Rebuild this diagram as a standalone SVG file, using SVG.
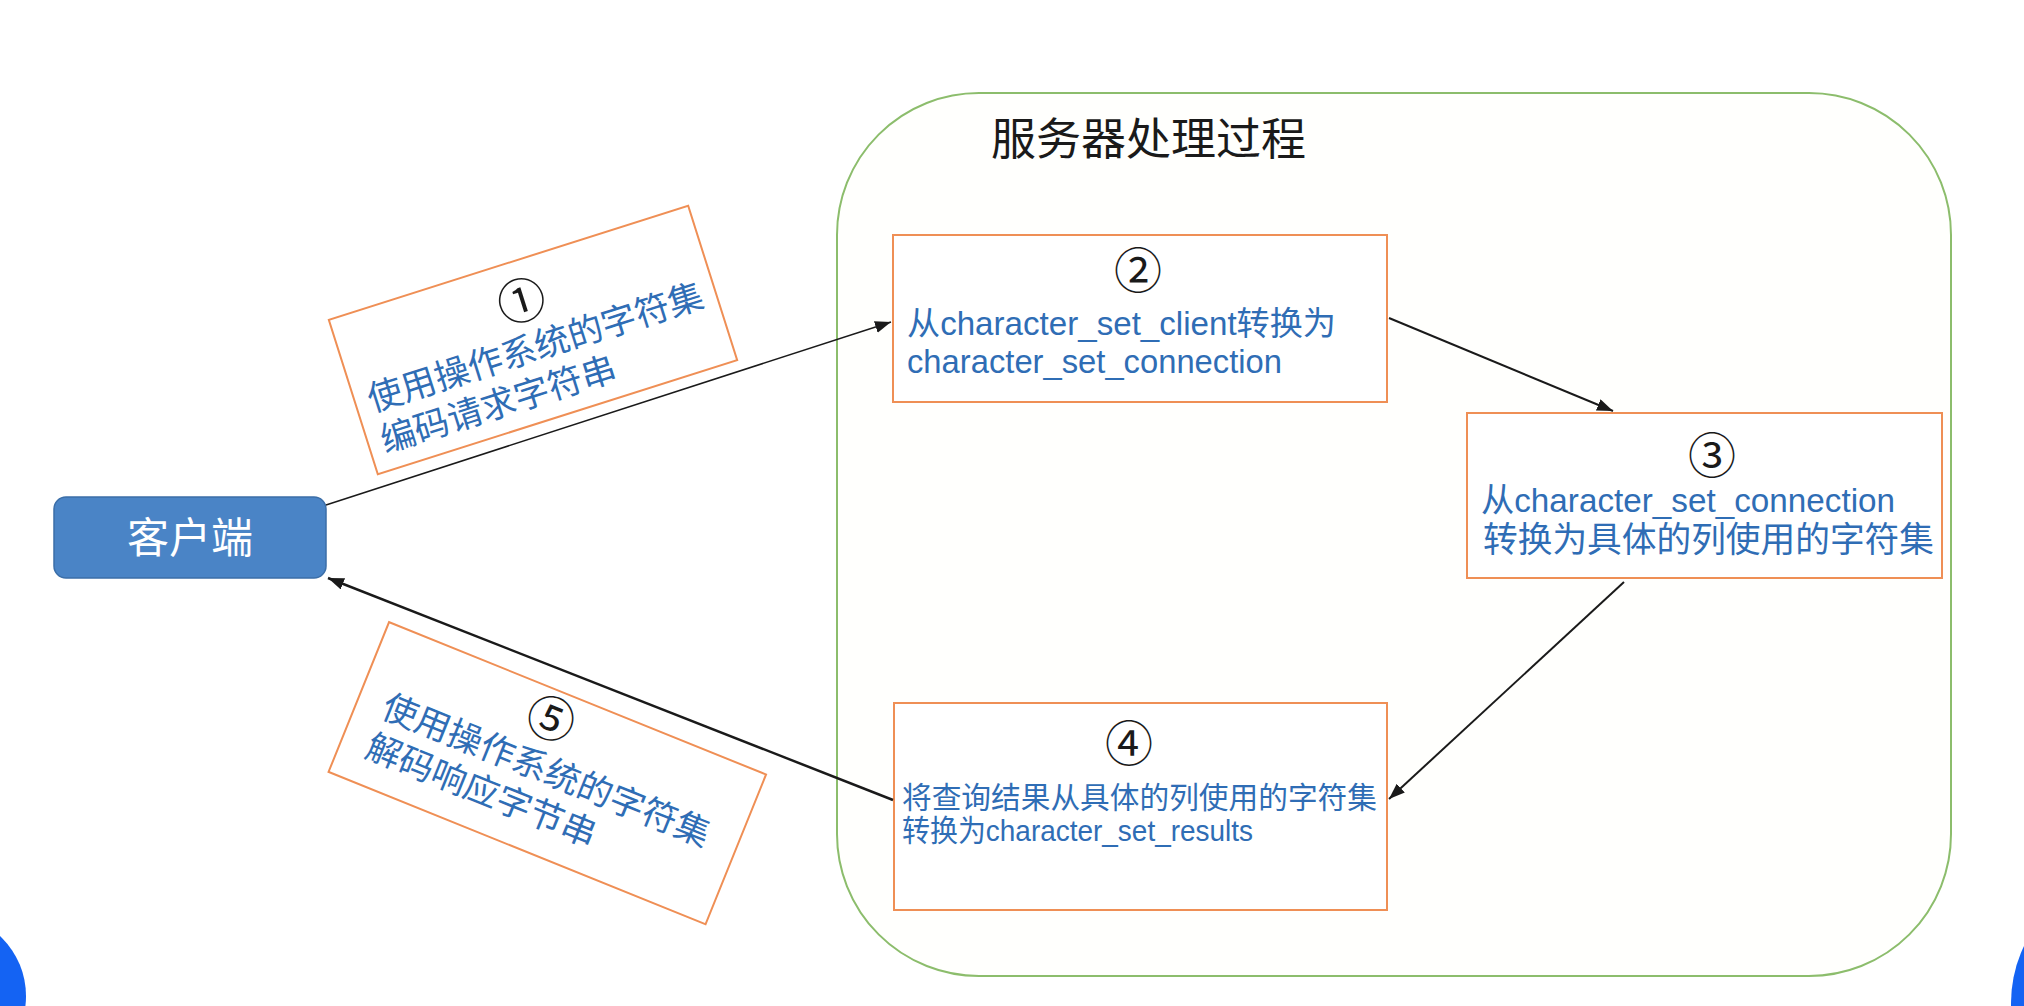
<svg xmlns="http://www.w3.org/2000/svg" width="2024" height="1006" viewBox="0 0 2024 1006">
  <style>
    .box { fill: #ffffff; stroke: #ef8f55; stroke-width: 2; }
    .txt { font-family: "Liberation Sans", "Noto Sans CJK SC", sans-serif; fill: #2f6db5; }
    .cjk { font-family: "Noto Sans CJK SC", sans-serif; fill: #2f6db5; }
    .num { font-family: "Noto Sans CJK SC", sans-serif; fill: #1a1a1a; text-anchor: middle; }
    .conn { stroke: #1a1a1a; fill: none; }
  </style>
  <defs>
    <marker id="arrow" markerUnits="userSpaceOnUse" markerWidth="18" markerHeight="14" refX="16" refY="6" orient="auto">
      <path d="M0,0 L16,6 L0,12 Z" fill="#1a1a1a"/>
    </marker>
  </defs>
  <rect x="0" y="0" width="2024" height="1006" fill="#ffffff"/>

  <g id="server">
    <rect x="837" y="93" width="1114" height="883" rx="142" ry="142" fill="#fffffd" stroke="#8cbd6c" stroke-width="2"/>
    <text x="991" y="155" font-family="Noto Sans CJK SC, sans-serif" font-size="44" fill="#1a1a1a" textLength="315" lengthAdjust="spacingAndGlyphs">服务器处理过程</text>
  </g>

  <g id="client">
    <rect x="54" y="497" width="272" height="81" rx="12" ry="12" fill="#4a84c6" stroke="#3b6ea8" stroke-width="1.5"/>
    <text x="190" y="553" font-family="Noto Sans CJK SC, sans-serif" font-size="42" fill="#ffffff" text-anchor="middle">客户端</text>
  </g>

  <g id="step2">
    <rect class="box" x="893" y="235" width="494" height="167"/>
    <text class="num" x="1138" y="288" font-size="48">②</text>
    <text class="txt" x="907" y="335" font-size="33" textLength="429" lengthAdjust="spacingAndGlyphs">从character_set_client转换为</text>
    <text class="txt" x="907" y="373" font-size="33" textLength="375" lengthAdjust="spacingAndGlyphs">character_set_connection</text>
  </g>

  <g id="step3">
    <rect class="box" x="1467" y="413" width="475" height="165"/>
    <text class="num" x="1712" y="473" font-size="48">③</text>
    <text class="txt" x="1481" y="512" font-size="34" textLength="414" lengthAdjust="spacingAndGlyphs">从character_set_connection</text>
    <text class="txt" x="1483" y="552" font-size="35" textLength="451" lengthAdjust="spacingAndGlyphs">转换为具体的列使用的字符集</text>
  </g>

  <g id="step4">
    <rect class="box" x="894" y="703" width="493" height="207"/>
    <text class="num" x="1129" y="761" font-size="48">④</text>
    <text class="txt" x="902" y="808" font-size="30" textLength="475" lengthAdjust="spacingAndGlyphs">将查询结果从具体的列使用的字符集</text>
    <text class="txt" x="902" y="841" font-size="30" textLength="351" lengthAdjust="spacingAndGlyphs">转换为character_set_results</text>
  </g>

  <g id="step1" transform="translate(533,340) rotate(-17.6)">
    <rect class="box" x="-188.5" y="-81" width="377" height="162"/>
    <text class="num" x="1" y="-23" font-size="48">①</text>
    <text class="cjk" x="-175" y="20" font-size="35">使用操作系统的字符集</text>
    <text class="cjk" x="-175" y="63" font-size="35">编码请求字符串</text>
  </g>

  <g id="step5" transform="translate(547.3,773.2) rotate(22)">
    <rect class="box" x="-203.3" y="-80.75" width="406.6" height="161.5"/>
    <text class="num" x="-17" y="-34" font-size="48">⑤</text>
    <text class="cjk" x="-177" y="10" font-size="35">使用操作系统的字符集</text>
    <text class="cjk" x="-177" y="53" font-size="35">解码响应字节串</text>
  </g>

  <g id="connectors">
    <line class="conn" x1="326" y1="505" x2="891" y2="322" stroke-width="1.5" marker-end="url(#arrow)"/>
    <line class="conn" x1="1389" y1="318" x2="1613" y2="411" stroke-width="2" marker-end="url(#arrow)"/>
    <line class="conn" x1="1624" y1="582" x2="1389" y2="799" stroke-width="2" marker-end="url(#arrow)"/>
    <line class="conn" x1="893" y1="800" x2="328" y2="578" stroke-width="2.5" marker-end="url(#arrow)"/>
  </g>

  <g id="screen-corners">
    <circle cx="-56" cy="996" r="82" fill="#1463f3"/>
    <circle cx="2142" cy="1003" r="131" fill="#1463f3"/>
  </g>
</svg>
